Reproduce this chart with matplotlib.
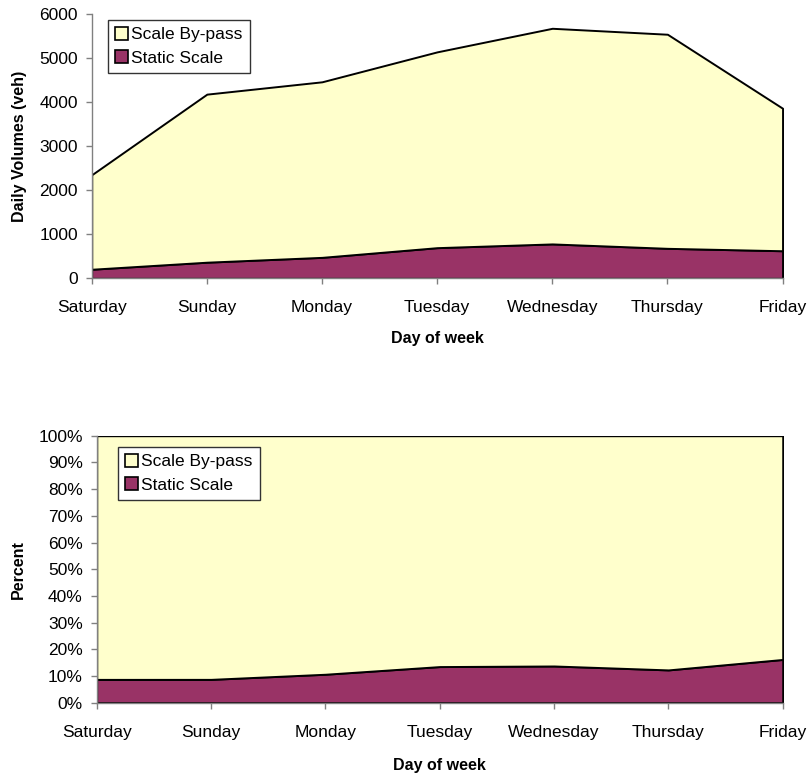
import numpy as np
import matplotlib.pyplot as plt
from matplotlib.patches import Patch
from matplotlib.ticker import PercentFormatter

plt.rcParams['font.family'] = ['Liberation Sans', 'DejaVu Sans']

days = ['Saturday', 'Sunday', 'Monday', 'Tuesday', 'Wednesday', 'Thursday', 'Friday']
static_scale = [205, 365, 475, 695, 780, 680, 625]
scale_bypass = [2145, 3815, 3985, 4445, 4895, 4860, 3235]

yellow = '#FFFFCC'
purple = '#993366'
grey = '#808080'

x = np.arange(len(days))
static = np.array(static_scale, dtype=float)
bypass = np.array(scale_bypass, dtype=float)
total = static + bypass

fig = plt.figure(figsize=(8.08, 7.76), dpi=100)
ax1 = fig.add_axes([0.1135, 0.6414, 0.855, 0.3406])
ax2 = fig.add_axes([0.1197, 0.0945, 0.849, 0.344])


def style_axes(ax):
    for s in ['top', 'right']:
        ax.spines[s].set_visible(False)
    for s in ['left', 'bottom']:
        ax.spines[s].set_color(grey)
        ax.spines[s].set_linewidth(1)
    ax.set_xlim(0, len(days) - 1)
    ax.set_xticks(x)
    ax.set_xticklabels(days)
    ax.tick_params(axis='x', direction='out', length=4, width=1, color=grey,
                   pad=12, labelsize=12.5)
    ax.tick_params(axis='y', direction='out', length=4, width=1, color=grey,
                   pad=6, labelsize=12.5)
    ax.set_xlabel('Day of week', fontsize=11.5, fontweight='bold', va='top')


def add_legend(ax, anchor):
    handles = [Patch(facecolor=yellow, edgecolor='black', lw=1.2, label='Scale By-pass'),
               Patch(facecolor=purple, edgecolor='black', lw=1.2, label='Static Scale')]
    leg = ax.legend(handles=handles, loc='upper left', bbox_to_anchor=anchor,
                    bbox_transform=fig.transFigure, fontsize=12.5, frameon=True,
                    fancybox=False, framealpha=1, edgecolor='#333333',
                    handlelength=0.75, handleheight=0.75, handletextpad=0.2,
                    borderpad=0.4, labelspacing=0.45, borderaxespad=0)
    leg.get_frame().set_linewidth(1)


# daily volumes, stacked
ax1.stackplot(x, static, bypass, colors=[purple, yellow],
              edgecolor='black', linewidth=1.4)
ax1.set_ylim(0, 6000)
ax1.set_yticks(np.arange(0, 6001, 1000))
style_axes(ax1)
ax1.set_ylabel('Daily Volumes (veh)', fontsize=11.5, fontweight='bold')
ax1.yaxis.set_label_coords(-0.094, 0.5)
ax1.xaxis.set_label_coords(0.5, -0.199)
add_legend(ax1, (0.1337, 0.9742))

# share of each scale
pct_static = static / total
pct_bypass = bypass / total
ax2.stackplot(x, pct_static, pct_bypass, colors=[purple, yellow],
              edgecolor='black', linewidth=1.4)
ax2.set_ylim(0, 1)
ax2.set_yticks(np.arange(0, 1.01, 0.1))
ax2.yaxis.set_major_formatter(PercentFormatter(1.0, decimals=0))
style_axes(ax2)
ax2.set_ylabel('Percent', fontsize=11.5, fontweight='bold')
ax2.yaxis.set_label_coords(-0.103, 0.5)
ax2.xaxis.set_label_coords(0.5, -0.207)
add_legend(ax2, (0.146, 0.424))

fig.savefig('out.png', dpi=100)
